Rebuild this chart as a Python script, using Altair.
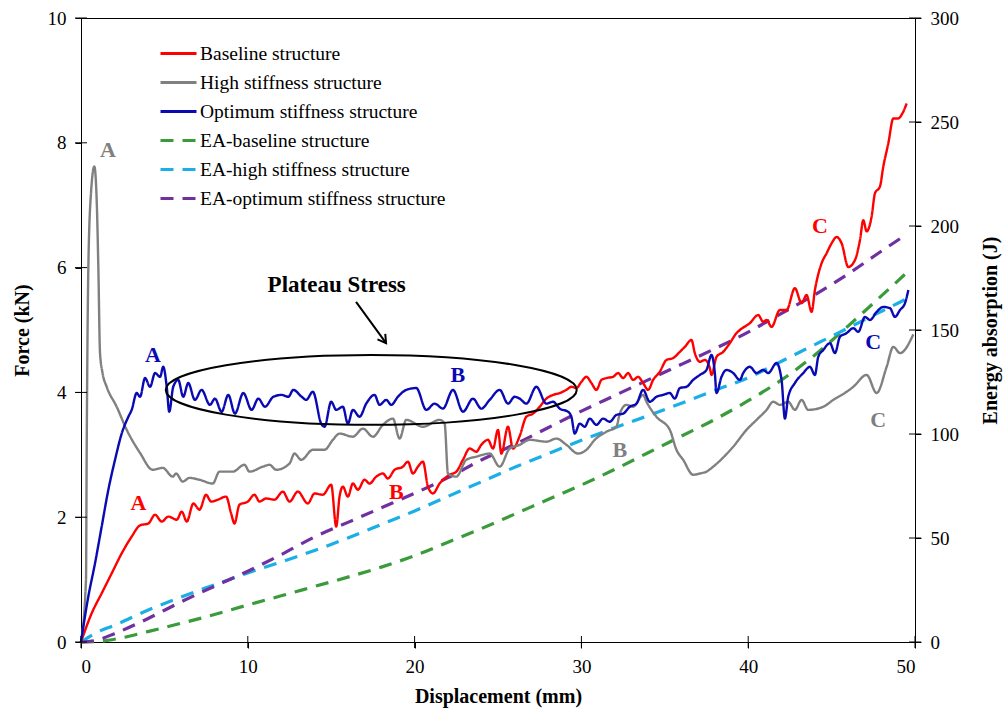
import altair as alt
import pandas as pd

# ---------------- data ----------------
series_names = [
    "Baseline structure",
    "High stiffness structure",
    "Optimum stiffness structure",
    "EA-baseline structure",
    "EA-high stiffness structure",
    "EA-optimum stiffness structure",
]
series_colors = ["#FF0000", "#808080", "#0A0AB4", "#3A9B3A", "#1AAFE6", "#7030A0"]

# axis tick values
disp_ticks = [0, 10, 20, 30, 40, 50]
force_ticks = [0, 2, 4, 6, 8, 10]
energy_ticks = [0, 50, 100, 150, 200, 250, 300]

# Baseline structure: displacement (mm) / force (kN)
x_base = [0, 0.64, 1.24, 1.84, 2.44, 3.04, 3.54, 4.04, 4.44, 4.84, 5.24, 5.74, 6.04, 6.34, 6.74,
          7.1, 7.5, 7.8, 8.2, 8.7, 9.0, 9.2, 9.5, 10.0, 10.4, 10.7, 11.1, 11.6, 12.1, 12.5, 13.0,
          13.6, 14.0, 14.5, 15.0, 15.3, 15.5, 15.7, 16.0, 16.3, 16.6, 17.0, 17.3, 17.7, 18.1, 18.4,
          18.8, 19.3, 19.6, 19.9, 20.2, 20.5, 20.8, 21.1, 21.5, 22.1, 22.5, 22.9, 23.3, 23.7, 24.0,
          24.4, 24.7, 25.0, 25.2, 25.6, 25.9, 26.3, 26.7, 27.1, 27.5, 27.9, 28.3, 28.7, 29.1, 29.4,
          29.7, 30.0, 30.3, 30.6, 30.9, 31.2, 31.5, 31.9, 32.2, 32.5, 32.8, 33.1, 33.4, 33.7, 34.0,
          34.3, 34.7, 35.1, 35.5, 35.9, 36.2, 36.6, 36.8, 37.1, 37.4, 37.7, 37.8, 38.1, 38.5, 38.9,
          39.3, 39.5, 40.1, 40.6, 40.9, 41.1, 41.4, 41.9, 42.3, 42.8, 43.2, 43.5, 43.8, 44.0, 44.4,
          44.7, 45.0, 45.3, 45.6, 46.0, 46.4, 46.7, 46.9, 47.1, 47.4, 47.6, 47.9, 48.1, 48.4, 48.7,
          49.0, 49.2, 49.5]
f_base = [0, 0.46, 0.78, 1.1, 1.42, 1.69, 1.87, 1.9, 2.04, 1.93, 2.01, 1.96, 2.09, 1.93, 2.22,
          2.12, 2.36, 2.25, 2.28, 2.33, 2.06, 1.9, 2.2, 2.25, 2.36, 2.25, 2.3, 2.28, 2.41, 2.25, 2.41,
          2.22, 2.38, 2.36, 2.52, 1.85, 2.33, 2.49, 2.33, 2.54, 2.44, 2.6, 2.54, 2.65, 2.7, 2.62,
          2.76, 2.81, 2.89, 2.7, 2.81, 2.89, 2.49, 2.38, 2.54, 2.68, 2.73, 2.92, 3.1, 3.05, 3.16,
          3.24, 3.1, 3.4, 3.02, 3.45, 3.1, 3.3, 3.61, 3.66, 3.77, 3.9, 3.96, 3.99, 4.04, 4.09,
          4.07, 4.17, 4.25, 4.15, 4.04, 4.2, 4.23, 4.25, 4.31, 4.23, 4.31, 4.2, 4.25, 4.15, 4.04,
          4.2, 4.33, 4.52, 4.55, 4.65, 4.73, 4.84, 4.63, 4.49, 4.52, 4.39, 4.28, 4.57, 4.65, 4.79,
          4.95, 5.0, 5.11, 5.24, 5.13, 5.16, 5.05, 5.32, 5.32, 5.67, 5.43, 5.56, 5.29, 5.64, 6.07,
          6.23, 6.39, 6.49, 6.39, 6.01, 6.12, 6.44, 6.76, 6.58, 6.82, 7.19, 7.3, 7.62, 7.99, 8.39,
          8.39, 8.45, 8.63]

# High stiffness structure
x_high = [0, 0.3, 0.34, 0.44, 0.6, 0.8, 0.95, 1.04, 1.14, 1.3, 1.54, 2.14, 2.74, 3.54, 4.3, 4.9,
          5.5, 5.7, 6.1, 6.5, 7.1, 7.9, 8.3, 9.1, 9.8, 10.1, 10.9, 11.3, 11.7, 12.5, 12.8, 13.2,
          13.9, 14.6, 15.1, 15.5, 16.3, 16.9, 17.5, 18.1, 18.7, 19.1, 19.5, 20.5, 21.5, 21.8, 22.0,
          22.5, 23.1, 23.7, 24.5, 25.1, 25.7, 26.3, 26.9, 27.9, 28.5, 29.1, 29.8, 30.3, 30.8, 31.5,
          32.1, 32.3, 32.7, 33.1, 33.7, 33.9, 34.5, 35.3, 35.7, 36.1, 36.7, 37.1, 37.5, 37.9, 39.1,
          39.9, 40.5, 41.1, 41.5, 41.9, 42.4, 42.8, 43.2, 43.6, 44.5, 45.1, 45.9, 46.3, 47.1, 47.7,
          48.3, 48.7, 49.1, 49.9]
f_high = [0, 1.0, 3.0, 6.0, 7.2, 7.62, 7.0, 6.0, 4.63, 4.3, 4.09, 3.77, 3.4, 3.03, 2.76, 2.79,
          2.65, 2.7, 2.57, 2.63, 2.6, 2.54, 2.73, 2.73, 2.84, 2.73, 2.81, 2.84, 2.76, 2.86, 3.02, 2.92,
          3.08, 3.08, 3.24, 3.34, 3.29, 3.42, 3.29, 3.48, 3.58, 3.26, 3.56, 3.45, 3.56, 3.5, 2.7,
          2.65, 2.92, 2.97, 3.02, 2.81, 3.1, 3.16, 3.24, 3.21, 3.26, 3.16, 3.02, 3.08, 3.24, 3.37,
          3.45, 3.66, 3.8, 3.77, 3.96, 3.85, 3.61, 3.4, 3.08, 2.92, 2.68, 2.7, 2.73, 2.81, 3.13,
          3.4, 3.56, 3.72, 3.85, 3.8, 3.85, 3.72, 3.88, 3.72, 3.77, 3.88, 4.01, 4.09, 4.28, 3.99,
          4.41, 4.73, 4.63, 4.93]

# Optimum stiffness structure
x_opt = [0, 0.44, 0.84, 1.24, 1.64, 2.04, 2.44, 2.84, 3.04, 3.34, 3.54, 3.84, 4.14, 4.44, 4.74,
         4.93, 5.14, 5.29, 5.53, 5.83, 6.13, 6.43, 6.83, 7.23, 7.73, 8.03, 8.43, 8.83, 9.23, 9.73,
         10.23, 10.63, 11.03, 11.53, 12.03, 12.43, 12.73, 13.23, 13.5, 13.9, 14.4, 14.6, 15.0, 15.3,
         15.7, 16.0, 16.3, 16.7, 17.1, 17.6, 17.9, 18.3, 18.6, 19.0, 19.5, 20.1, 20.7, 21.2, 21.7,
         22.3, 22.9, 23.5, 24.0, 24.5, 25.1, 25.6, 26.0, 26.3, 26.7, 27.3, 27.9, 28.3, 28.7, 29.2,
         29.4, 29.6, 29.9, 30.2, 30.5, 30.9, 31.3, 31.7, 32.1, 32.5, 32.9, 33.3, 33.7, 34.1, 34.5,
         34.9, 35.3, 35.6, 35.9, 36.3, 36.7, 37.1, 37.5, 37.8, 38.0, 38.1, 38.4, 38.7, 39.1, 39.5,
         39.7, 40.1, 40.5, 40.9, 41.2, 41.7, 42.0, 42.2, 42.4, 42.8, 43.3, 43.7, 44.0, 44.2, 44.5,
         44.9, 45.2, 45.5, 45.9, 46.3, 46.6, 47.0, 47.3, 47.7, 48.1, 48.5, 48.8, 49.1, 49.4, 49.6]
f_opt = [0, 0.73, 1.26, 1.85, 2.44, 2.92, 3.34, 3.61, 3.72, 3.99, 3.93, 4.23, 4.09, 4.31, 4.25,
         4.41, 4.09, 3.69, 4.09, 4.2, 3.93, 4.15, 3.88, 4.04, 3.8, 3.9, 3.69, 3.96, 3.66, 3.99,
         3.72, 3.9, 3.77, 3.93, 3.96, 3.93, 4.04, 3.93, 3.88, 4.01, 3.5, 3.45, 3.85, 3.72,
         3.77, 3.5, 3.72, 3.61, 3.82, 3.96, 3.8, 3.88, 3.8, 3.93, 4.04, 4.07, 3.72, 3.82, 3.74,
         4.04, 3.69, 3.9, 3.74, 3.88, 4.04, 3.82, 3.93, 3.9, 3.82, 4.09, 3.82, 3.85, 3.74, 3.69,
         3.61, 3.34, 3.5, 3.45, 3.58, 3.48, 3.58, 3.53, 3.64, 3.66, 3.77, 3.82, 4.04, 3.85, 3.93,
         3.96, 3.99, 3.9, 4.07, 4.09, 4.2, 4.28, 4.36, 4.6, 4.31, 3.99, 4.25, 4.36, 4.31, 4.2,
         4.31, 4.41, 4.31, 4.36, 4.31, 4.47, 4.2, 3.58, 3.93, 4.15, 4.31, 4.41, 4.28, 4.57, 4.68,
         4.79, 4.63, 4.89, 4.95, 5.03, 4.97, 5.21, 5.16, 5.29, 5.37, 5.35, 5.21, 5.32, 5.43, 5.64]

# Energy absorption (J), right axis
x_ea = [0, 1, 2, 4, 6, 8, 10, 12, 14, 16, 18, 20, 22, 24, 26, 28, 30, 32, 34, 36, 38, 40, 42, 44,
        46, 48, 49.5]
ea_base = [0, 0.2, 1.3, 5, 9, 13.2, 17.8, 22.2, 26.7, 31.2, 36, 41.5, 48, 54.5, 61.5, 68.5, 75.5,
           83, 91, 99, 107, 116, 126, 138, 152, 166.5, 177.5]
ea_high = [0, 4.8, 8, 15.3, 21.6, 27.5, 33.2, 38.5, 44, 50, 56.5, 63, 70, 77, 84, 90.5, 97,
           103, 108.8, 114.8, 121, 127, 135, 143, 151, 159, 165]
ea_opt = [0, 1, 4, 11.2, 19.3, 26.8, 34, 42, 50.5, 57.5, 64.5, 71.5, 79, 87.5, 95, 103, 111, 118.5,
          126, 133.5, 141, 149, 158, 167, 177, 188, 196]

# Point labels (letter, colour, displacement, force)
label_text = ["A", "A", "A", "B", "B", "B", "C", "C", "C"]
label_color = ["#808080", "#0A0AB4", "#FF0000", "#0A0AB4", "#FF0000", "#808080", "#FF0000", "#0A0AB4", "#808080"]
label_x = [1.62, 4.32, 3.44, 22.6, 18.9, 32.3, 44.3, 47.5, 47.8]
label_f = [7.88, 4.6, 2.22, 4.28, 2.41, 3.08, 6.66, 4.81, 3.56]

plateau_text = ["Plateau Stress"]
plateau_x = [15.33]
plateau_f = [5.72]
# ellipse centre (mm, kN)
ellipse_x = [17.4]
ellipse_f = [4.04]
# arrow from / to (mm, kN)
arrow_x = [16.49]
arrow_f = [5.45]
arrow_x2 = [18.29]
arrow_f2 = [4.79]

# ---------------- tables ----------------
force_df = pd.concat([
    pd.DataFrame({"disp": x_base, "force": f_base, "series": series_names[0]}),
    pd.DataFrame({"disp": x_high, "force": f_high, "series": series_names[1]}),
    pd.DataFrame({"disp": x_opt, "force": f_opt, "series": series_names[2]}),
], ignore_index=True)
ea_df = pd.concat([
    pd.DataFrame({"disp": x_ea, "energy": ea_base, "series": series_names[3]}),
    pd.DataFrame({"disp": x_ea, "energy": ea_high, "series": series_names[4]}),
    pd.DataFrame({"disp": x_ea, "energy": ea_opt, "series": series_names[5]}),
], ignore_index=True)
labels_df = pd.DataFrame({"disp": label_x, "force": label_f, "label": label_text, "col": label_color})
plateau_df = pd.DataFrame({"disp": plateau_x, "force": plateau_f, "label": plateau_text})
ellipse_df = pd.DataFrame({"disp": ellipse_x, "force": ellipse_f})
arrow_df = pd.DataFrame({"disp": arrow_x, "force": arrow_f, "disp2": arrow_x2, "force2": arrow_f2})
head_df = pd.DataFrame({"disp": arrow_x2, "force": arrow_f2})
xtick_df = pd.DataFrame({"disp": disp_ticks})
ftick_df = pd.DataFrame({"force": force_ticks})
etick_df = pd.DataFrame({"energy": energy_ticks})

# ---------------- encodings ----------------
FONT = "Liberation Serif"
W, H = 834, 624
axis_style = dict(labelFont=FONT, labelFontSize=19, labelColor="black", titleFont=FONT,
                  titleFontSize=20, titleFontWeight="bold", titleColor="black", domainColor="black",
                  tickColor="black", tickSize=6, labelPadding=9, grid=False,
                  titleAlign="center", titleBaseline="middle")

x_enc = alt.X("disp:Q", scale=alt.Scale(domain=[0, 50], nice=False),
              axis=alt.Axis(values=disp_ticks, title="Displacement (mm)",
                            titleX=417, titleY=54, **axis_style))
y_force = alt.Y("force:Q", scale=alt.Scale(domain=[0, 10], nice=False),
                axis=alt.Axis(values=force_ticks, title="Force (kN)", orient="left",
                              titleAngle=270, titleX=-59, titleY=312, **axis_style))
y_ea = alt.Y("energy:Q", scale=alt.Scale(domain=[0, 300], nice=False),
             axis=alt.Axis(values=energy_ticks, title="Energy absorption (J)",
                           orient="right", titleAngle=270, titleX=75, titleY=312, **axis_style))

color_scale = alt.Scale(domain=series_names, range=series_colors)
dash_scale = alt.Scale(domain=series_names, range=[[1, 0], [1, 0], [1, 0], [13, 9], [13, 9], [13, 9]])
legend = alt.Legend(title=None, orient="none", legendX=78, legendY=16, symbolType="stroke",
                    symbolSize=1296, symbolStrokeWidth=3, labelFont=FONT, labelFontSize=19.5,
                    labelColor="black", labelOffset=2, rowPadding=-5, padding=0, labelLimit=400)
color_enc = alt.Color("series:N", scale=color_scale, legend=legend, sort=series_names)
dash_enc = alt.StrokeDash("series:N", scale=dash_scale, legend=legend, sort=series_names)

ea_lines = alt.Chart(ea_df).mark_line(strokeWidth=3.2, interpolate="monotone").encode(
    x=x_enc, y=y_ea, color=color_enc, strokeDash=dash_enc)
# ticks crossing the right axis
ea_ticks = alt.Chart(etick_df).mark_tick(orient="horizontal", size=12, thickness=1,
                                         color="black", opacity=1).encode(
    y=y_ea, x=alt.value(W))
ea_group = alt.layer(ea_lines, ea_ticks)

force_lines = alt.Chart(force_df).mark_line(strokeWidth=2.4, interpolate="monotone").encode(
    x=x_enc, y=y_force, color=color_enc, strokeDash=dash_enc)

# ticks crossing the left and bottom axes
f_ticks = alt.Chart(ftick_df).mark_tick(orient="horizontal", size=12, thickness=1,
                                        color="black", opacity=1).encode(
    y=y_force, x=alt.value(0))
x_ticks = alt.Chart(xtick_df).mark_tick(orient="vertical", size=12, thickness=1,
                                        color="black", opacity=1).encode(
    x=x_enc, y=alt.value(H))

ELLIPSE = ("M -1 0 C -1 -0.094 -0.552 -0.17 0 -0.17 C 0.552 -0.17 1 -0.094 1 0 "
           "C 1 0.094 0.552 0.17 0 0.17 C -0.552 0.17 -1 0.094 -1 0 Z")
ellipse = alt.Chart(ellipse_df).mark_point(shape=ELLIPSE, size=411 ** 2, filled=False,
                                           stroke="black", strokeWidth=2, opacity=1).encode(
    x=x_enc, y=y_force)

arrow_shaft = alt.Chart(arrow_df).mark_rule(color="black", strokeWidth=2).encode(
    x=x_enc, y=y_force, x2="disp2:Q", y2="force2:Q")
arrow_head = alt.Chart(head_df).mark_point(shape="M -0.6 -1 L 0 0 L 0.6 -1", size=256, angle=324,
                                           filled=False, stroke="black", strokeWidth=2,
                                           opacity=1).encode(x=x_enc, y=y_force)

text_layers = []
for c in ["#FF0000", "#808080", "#0A0AB4"]:
    text_layers.append(
        alt.Chart(labels_df).transform_filter(alt.datum.col == c).mark_text(
            font=FONT, fontSize=22, fontWeight="bold", color=c, align="center", baseline="middle"
        ).encode(x=x_enc, y=y_force, text="label:N"))

plateau = alt.Chart(plateau_df).mark_text(font=FONT, fontSize=23, fontWeight="bold", color="black",
                                          align="center", baseline="middle").encode(
    x=x_enc, y=y_force, text="label:N")

force_group = alt.layer(force_lines, f_ticks, x_ticks, ellipse, arrow_shaft, arrow_head, plateau,
                        *text_layers)

chart = alt.layer(ea_group, force_group).resolve_scale(y="independent").properties(
    width=W, height=H,
    padding={"left": 81, "top": 18, "right": 90, "bottom": 68},
    autosize=alt.AutoSizeParams(type="none"),
    background="white",
).configure_view(stroke="black", strokeWidth=1)

chart.save("out.html", embed_options={"renderer": "svg", "actions": False})
